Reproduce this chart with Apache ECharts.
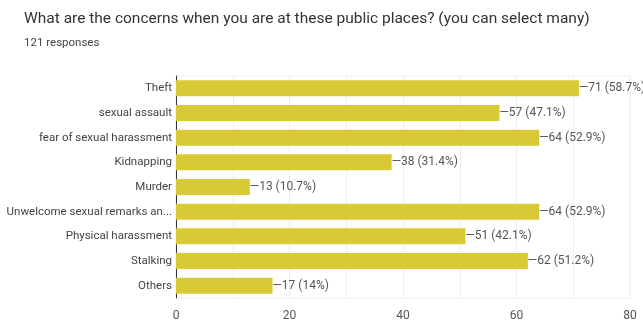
<!DOCTYPE html>
<html><head><meta charset="utf-8">
<script src="https://cdn.jsdelivr.net/npm/echarts@6/dist/echarts.min.js"></script>
<style>html,body{margin:0;padding:0;background:#fff}#c{width:643px;height:322px}</style>
</head><body><div id="c"></div>
<script>
const categories = ["Theft","sexual assault","fear of sexual harassment","Kidnapping","Murder","Unwelcome sexual remarks an...","Physical harassment","Stalking","Others"];
const values = [71,57,64,38,13,64,51,62,17];
const totalResponses = 121;
const xTicks = [0,20,40,60,80];

const chart = echarts.init(document.getElementById('c'), null, {renderer:'canvas'});
chart.setOption({
  animation:false,
  title:[
    {text:"What are the concerns when you are at these public places? (you can select many)", left:19, top:6,
     textStyle:{fontFamily:'Roboto', fontSize:15.5, fontWeight:'normal', color:'#333'}},
    {text:totalResponses + " responses", left:19, top:32,
     textStyle:{fontFamily:'Roboto', fontSize:11.5, fontWeight:'normal', color:'#444'}}
  ],
  grid:{left:176, right:13, top:76, bottom:21, show:true, borderColor:'#eee', borderWidth:1},
  xAxis:{type:'value', min:0, max:80, interval:10,
    axisLine:{show:false}, axisTick:{show:false},
    splitLine:{lineStyle:{color:'#eee'}},
    axisLabel:{fontFamily:'Roboto', fontSize:12, color:'#555', margin:12,
      formatter:v => xTicks.includes(v) ? String(v) : ''}},
  yAxis:{type:'category', data:categories, inverse:true,
    axisLine:{lineStyle:{color:'#333', width:1}}, axisTick:{show:false},
    axisLabel:{fontFamily:'Roboto', fontSize:11.5, color:'#444', margin:4}},
  series:[{type:'bar', data:values, barWidth:16,
    itemStyle:{color:'#d9c934'},
    label:{show:true, position:'right', distance:0, fontFamily:'Roboto', fontSize:12, color:'#555',
      formatter:p => '\u2014' + p.value + ' (' + parseFloat((p.value/totalResponses*100).toFixed(1)) + '%)'}}]
});
</script></body></html>
